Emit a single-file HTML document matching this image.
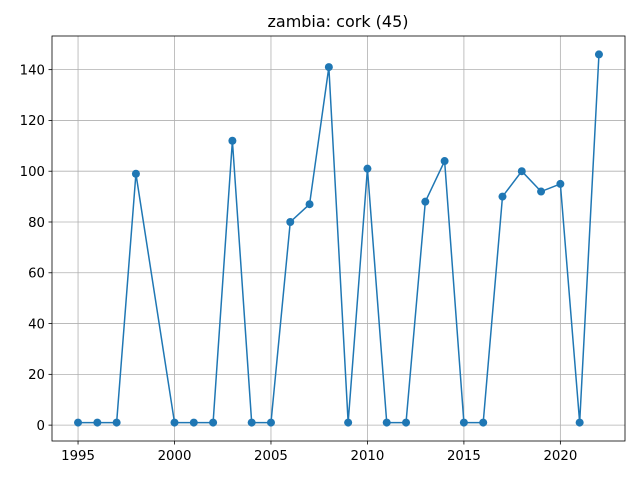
<!DOCTYPE html>
<html><head><meta charset="utf-8"><style>
body{margin:0;background:#fff;}
svg text{font-family:"DejaVu Sans","Liberation Sans",sans-serif;fill:#000;}
</style></head><body>
<svg id="chart" width="640" height="480" xmlns="http://www.w3.org/2000/svg">
<rect width="640" height="480" fill="#fff"/>
<text x="338" y="27" font-size="16" text-anchor="middle">zambia: cork (45)</text>
<g id="grid"></g>
<g id="xticks"></g>
<g id="yticks"></g>
<path id="line" fill="none" stroke="#1f77b4" stroke-width="1.5"/>
<g id="points"></g>
<rect x="52" y="36" width="573" height="405" fill="none" stroke="#000" stroke-width="0.8"/>
</svg>
<script>
const years=[1995,1996,1997,1998,2000,2001,2002,2003,2004,2005,2006,2007,2008,2009,2010,2011,2012,2013,2014,2015,2016,2017,2018,2019,2020,2021,2022];
const values=[1,1,1,99,1,1,1,112,1,1,80,87,141,1,101,1,1,88,104,1,1,90,100,92,95,1,146];
const xTicks=[1995,2000,2005,2010,2015,2020];
const yTicks=[0,20,40,60,80,100,120,140];
const NS="http://www.w3.org/2000/svg";
const L=52,R=625,T=36,B=441;
const xMin=1993.65,xMax=2023.35,yMin=-6.25,yMax=153.25;
const sx=v=>L+(v-xMin)/(xMax-xMin)*(R-L);
const sy=v=>B-(v-yMin)/(yMax-yMin)*(B-T);
function mk(tag,attrs,parent){const e=document.createElementNS(NS,tag);for(const k in attrs)e.setAttribute(k,attrs[k]);parent.appendChild(e);return e;}
const grid=document.getElementById('grid'),gx=document.getElementById('xticks'),gy=document.getElementById('yticks');
xTicks.forEach(t=>{const x=sx(t);
 const g=mk('line',{x1:x,x2:x,y1:T,y2:B,stroke:'#b0b0b0','stroke-width':0.8},grid);
 
 
 mk('line',{x1:x,x2:x,y1:B,y2:B+3.5,stroke:'#000','stroke-width':0.8},gx);
 const tx=mk('text',{x:x,y:B+19,'font-size':13.3,'text-anchor':'middle'},gx);tx.textContent=t;
 
 
});
yTicks.forEach(t=>{const y=sy(t);
 const g=mk('line',{x1:L,x2:R,y1:y,y2:y,stroke:'#b0b0b0','stroke-width':0.8},grid);
 
 
 mk('line',{x1:L-3.5,x2:L,y1:y,y2:y,stroke:'#000','stroke-width':0.8},gy);
 const tx=mk('text',{x:L-7,y:y+4.8,'font-size':13.3,'text-anchor':'end'},gy);tx.textContent=t;
 
 
});
document.getElementById('line').setAttribute('d',years.map((y,i)=>(i?'L':'M')+sx(y)+' '+sy(values[i])).join(' '));
const pts=document.getElementById('points');
years.forEach((y,i)=>{const c=mk('circle',{cx:sx(y),cy:sy(values[i]),r:4,fill:'#1f77b4'},pts);
 
 
});
</script>
</body></html>
